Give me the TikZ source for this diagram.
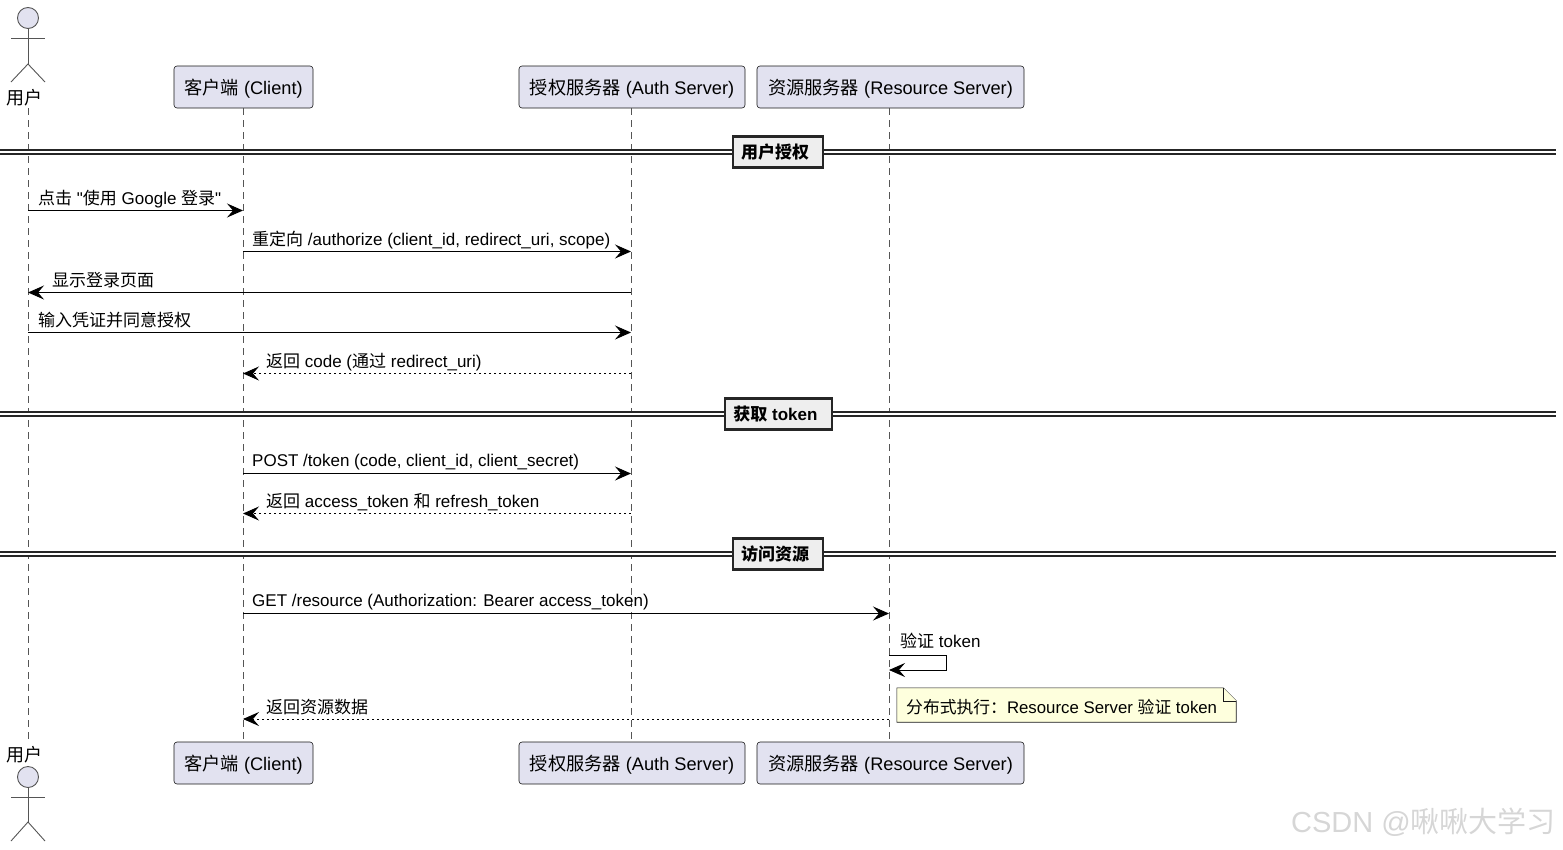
\documentclass[tikz,border=0pt]{standalone}
\usepackage{fontspec}
\setmainfont{Liberation Sans}[Ligatures=TeXOff]
\newfontfamily\cjk{Noto Sans CJK SC}
\newfontfamily\cjkb{Noto Sans CJK SC Bold}
\usetikzlibrary{arrows.meta,positioning}
\definecolor{partfill}{HTML}{E2E2F0}
\definecolor{edgegray}{HTML}{181818}
\definecolor{lifegray}{HTML}{555555}
\definecolor{notefill}{HTML}{FEFFDD}
\definecolor{sepfill}{HTML}{EEEEEE}

\begin{document}
\begin{tikzpicture}[x=1pt,y=-1pt,>={Stealth[length=16pt,width=14pt,inset=6pt]},
  part/.style={draw=edgegray,fill=partfill,line width=0.6pt,rounded corners=3pt,minimum height=42pt,inner sep=0pt,text height=18pt,text depth=4pt,font=\fontsize{18.2}{20}\selectfont},
  actorlabel/.style={inner sep=0pt,font=\fontsize{18}{20}\selectfont},
  actorhead/.style={circle,draw=lifegray,fill=partfill,line width=0.9pt,minimum size=21pt,inner sep=0pt},
  actorbody/.style={draw=lifegray,line width=0.9pt},
  life/.style={draw=lifegray,line width=0.8pt,dash pattern=on 7pt off 5pt},
  msg/.style={->,draw=black,line width=1pt},
  ret/.style={->,draw=black,line width=0.9pt,dash pattern=on 2.5pt off 2.5pt},
  msgtext/.style={anchor=base west,inner sep=0pt,font=\fontsize{17}{19}\selectfont},
  sepbox/.style={draw=black!85,fill=sepfill,line width=2.6pt,minimum height=31pt,inner sep=0pt,text height=15pt,text depth=3pt,execute at end node=\kern6pt,font=\fontsize{17}{19}\selectfont\bfseries},
  sepline/.style={draw=black!85,double=white,double distance=2.6pt,line width=1.3pt},
  notebox/.style={minimum width=339pt,minimum height=34pt,inner sep=0pt},
  noteedge/.style={draw=edgegray,fill=notefill,line width=0.6pt}]
\useasboundingbox (0,0) rectangle (1563,849);

% participants, top and bottom
\node[part,minimum width=139pt] (client) at (243.5,87) {{\cjk 客户端} (Client)};
\node[part,minimum width=226pt] (auth) at (632,87) {{\cjk 授权服务器} (Auth Server)};
\node[part,minimum width=267pt] (res) at (890.5,87) {{\cjk 资源服务器} (Resource Server)};
\node[part,minimum width=139pt] (clientb) at (243.5,763) {{\cjk 客户端} (Client)};
\node[part,minimum width=226pt] (authb) at (632,763) {{\cjk 授权服务器} (Auth Server)};
\node[part,minimum width=267pt] (resb) at (890.5,763) {{\cjk 资源服务器} (Resource Server)};

% actor, top
\node[actorhead] (userhead) at (28,18) {};
\coordinate (userhip) at (28,64);
\coordinate (usertop) at (28,108);
\node[actorlabel] (user) at (24,98) {\cjk 用户};
\draw[actorbody] (userhead) -- (userhip);
\draw[actorbody] (11,38) -- (45,38);
\draw[actorbody] (11,82) -- (userhip) -- (45,82);

% actor, bottom
\node[actorhead] (userheadb) at (28,777) {};
\coordinate (userhipb) at (28,822);
\coordinate (userbot) at (28,740);
\node[actorlabel] (userb) at (24,755) {\cjk 用户};
\draw[actorbody] (userheadb) -- (userhipb);
\draw[actorbody] (11,797) -- (45,797);
\draw[actorbody] (11,841) -- (userhipb) -- (45,841);

% lifelines
\coordinate (clientline) at (243,108);
\coordinate (clientend) at (243,741);
\coordinate (authline) at (631,108);
\coordinate (authend) at (631,741);
\coordinate (resline) at (889,108);
\coordinate (resend) at (889,741);
\draw[life] (usertop) -- (userbot);
\draw[life] (clientline) -- (clientend);
\draw[life] (authline) -- (authend);
\draw[life] (resline) -- (resend);

% page edges for the separators
\coordinate (edgel) at (0,0);
\coordinate (edger) at (1556,0);

% separators
\node[sepbox,minimum width=90pt] (sepa) at (778,152) {\cjkb 用户授权};
\draw[sepline] (edgel |- sepa) -- (sepa.west);
\draw[sepline] (sepa.east) -- (edger |- sepa);
\node[sepbox,minimum width=107pt] (sepb) at (778.5,414) {{\cjkb 获取} token};
\draw[sepline] (edgel |- sepb) -- (sepb.west);
\draw[sepline] (sepb.east) -- (edger |- sepb);
\node[sepbox,minimum width=90pt] (sepc) at (778,554) {\cjkb 访问资源};
\draw[sepline] (edgel |- sepc) -- (sepc.west);
\draw[sepline] (sepc.east) -- (edger |- sepc);

% message heights
\coordinate (ma) at (0,210.5);
\coordinate (mb) at (0,251.5);
\coordinate (mc) at (0,292.5);
\coordinate (md) at (0,332.5);
\coordinate (me) at (0,373.5);
\coordinate (mf) at (0,473.5);
\coordinate (mg) at (0,513.5);
\coordinate (mh) at (0,613.5);
\coordinate (mi) at (0,655);
\coordinate (mj) at (0,670);
\coordinate (mk) at (0,719);

% messages
\draw[msg] (usertop |- ma) -- (clientline |- ma);
\node[msgtext] (la) at (38,204) {{\cjk 点击} "{\cjk 使用} Google {\cjk 登录}"};
\draw[msg] (clientline |- mb) -- (authline |- mb);
\node[msgtext] (lb) at (252,245) {{\cjk 重定向} /authorize (client\_id, redirect\_uri, scope)};
\draw[msg] (authline |- mc) -- (usertop |- mc);
\node[msgtext] (lc) at (52,286) {\cjk 显示登录页面};
\draw[msg] (usertop |- md) -- (authline |- md);
\node[msgtext] (ld) at (38,326) {\cjk 输入凭证并同意授权};
\draw[ret] (authline |- me) -- (clientline |- me);
\node[msgtext] (le) at (266,367) {{\cjk 返回} code ({\cjk 通过} redirect\_uri)};
\draw[msg] (clientline |- mf) -- (authline |- mf);
\node[msgtext] (lf) at (252,466) {POST /token (code, client\_id, client\_secret)};
\draw[ret] (authline |- mg) -- (clientline |- mg);
\node[msgtext] (lg) at (266,507) {{\cjk 返回} access\_token {\cjk 和} refresh\_token};
\draw[msg] (clientline |- mh) -- (resline |- mh);
\node[msgtext] (lh) at (252,606.5) {GET /resource (Authorization: Bearer access\_token)};
\draw[msg] (resline |- mi) -- ++(57,0) -- ++(0,15) -- (resline |- mj);
\node[msgtext] (li) at (900,647) {{\cjk 验证} token};
\draw[ret] (resline |- mk) -- (clientline |- mk);
\node[msgtext] (lk) at (266,713) {\cjk 返回资源数据};

% note with folded corner
\node[notebox] (note) at (1066.5,705) {};
\draw[noteedge] (note.south west) -- (note.north west) -- ([xshift=-13pt]note.north east) -- ([yshift=-13pt]note.north east) -- (note.south east) -- cycle;
\draw[noteedge] ([xshift=-13pt]note.north east) -- ([xshift=-13pt,yshift=-13pt]note.north east) -- ([yshift=-13pt]note.north east);
\node[msgtext,font=\fontsize{16.8}{19}\selectfont] (notetext) at (906,713) {{\cjk 分布式执行：}Resource Server {\cjk 验证} token};

% watermark
\node[anchor=base east,inner sep=0pt,text=black!16,font=\fontsize{29}{31}\selectfont] (mark) at (1556,832) {CSDN @{\cjk 啾啾大学习}};
\end{tikzpicture}
\end{document}
